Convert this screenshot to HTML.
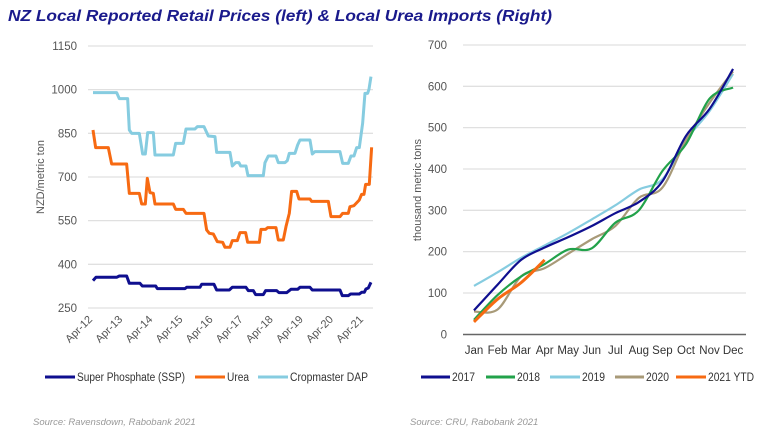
<!DOCTYPE html>
<html><head><meta charset="utf-8"><style>
body{margin:0;background:#fff;width:760px;height:431px;overflow:hidden;font-family:"Liberation Sans",sans-serif}
svg text{font-family:"Liberation Sans",sans-serif}
</style></head><body>
<svg id="s" width="760" height="431" viewBox="0 0 760 431">
<text x="8" y="21" font-size="16" font-weight="bold" font-style="italic" fill="#1a1a8c" textLength="544" lengthAdjust="spacingAndGlyphs">NZ Local Reported Retail Prices (left) &amp; Local Urea Imports (Right)</text>
<g id="grid" stroke="#e0e0e0" stroke-width="1.3"></g>
<g font-size="11.5" fill="#555" text-anchor="end" id="ylab"></g>
<text transform="translate(44,177) rotate(-90)" font-size="11" fill="#555" text-anchor="middle">NZD/metric ton</text>
<text transform="translate(421,190) rotate(-90)" font-size="11" fill="#555" text-anchor="middle">thousand metric tons</text>
<g id="xl" font-size="11" fill="#555" text-anchor="end"></g>
<g transform="translate(0,30) scale(0.3333)" fill="none" stroke-width="9" stroke-linejoin="round">
<polyline stroke="#86cce0" points="279,188 350,188 358,206 383,206 388,300 395,310 418,310 428,372 436,372 443,308 460,308 465,375 520,375 527,340 550,340 558,297 585,297 592,290 612,290 625,318 645,320 650,367 690,367 697,408 707,398 717,398 722,408 738,408 744,437 790,437 795,398 805,378 828,378 835,398 855,398 862,392 868,370 885,370 893,345 900,330 930,330 937,372 945,365 1020,365 1028,400 1045,400 1053,378 1062,378 1070,353 1078,353 1088,280 1095,190 1103,190 1107,178 1113,140"/>
<polyline stroke="#f76a12" points="279,300 287,353 325,353 335,402 380,402 388,490 418,490 425,522 436,522 442,445 450,488 460,490 465,522 520,522 527,538 550,538 558,550 612,550 620,600 628,610 640,612 652,635 668,637 675,652 690,652 697,632 712,632 720,608 737,608 743,637 778,637 783,598 797,598 803,593 828,593 835,630 850,630 858,590 868,550 875,484 890,484 897,507 930,507 935,514 985,514 993,560 1020,560 1028,550 1045,550 1050,530 1062,527 1078,510 1085,493 1092,493 1097,463 1108,463 1115,352"/>
<polyline stroke="#0f0f8f" points="279,752 288,742 350,742 358,738 380,738 388,760 420,760 427,768 467,768 472,776 555,776 560,772 600,772 605,763 642,763 650,780 688,780 697,772 738,772 745,782 760,782 767,794 790,794 797,782 830,782 837,788 860,788 873,778 893,778 900,772 930,772 937,780 1020,780 1027,797 1045,797 1052,792 1078,792 1085,787 1093,787 1098,777 1105,774 1113,757"/>
</g>
<line x1="463" y1="334.5" x2="746" y2="334.5" stroke="#666" stroke-width="1.5"/>
<g id="r" fill="none" stroke-width="2.2"></g>
<g font-size="11.5" fill="#333" id="mon" text-anchor="middle"></g>
<g font-size="11.5" fill="#333" lengthAdjust="spacingAndGlyphs">
<line x1="45" y1="377" x2="75" y2="377" stroke="#0f0f8f" stroke-width="3"/><text x="77" y="381" textLength="108" lengthAdjust="spacingAndGlyphs">Super Phosphate (SSP)</text>
<line x1="195" y1="377" x2="225" y2="377" stroke="#f76a12" stroke-width="3"/><text x="227" y="381" textLength="22" lengthAdjust="spacingAndGlyphs">Urea</text>
<line x1="258" y1="377" x2="288" y2="377" stroke="#86cce0" stroke-width="3"/><text x="290" y="381" textLength="78" lengthAdjust="spacingAndGlyphs">Cropmaster DAP</text>
<line x1="421" y1="377" x2="450" y2="377" stroke="#0f0f8f" stroke-width="3"/><text x="452" y="381" textLength="23" lengthAdjust="spacingAndGlyphs">2017</text>
<line x1="486" y1="377" x2="515" y2="377" stroke="#22a24a" stroke-width="3"/><text x="517" y="381" textLength="23" lengthAdjust="spacingAndGlyphs">2018</text>
<line x1="550" y1="377" x2="580" y2="377" stroke="#86cce0" stroke-width="3"/><text x="582" y="381" textLength="23" lengthAdjust="spacingAndGlyphs">2019</text>
<line x1="615" y1="377" x2="644" y2="377" stroke="#a89a78" stroke-width="3"/><text x="646" y="381" textLength="23" lengthAdjust="spacingAndGlyphs">2020</text>
<line x1="676" y1="377" x2="706" y2="377" stroke="#f76a12" stroke-width="3"/><text x="708" y="381" textLength="46" lengthAdjust="spacingAndGlyphs">2021 YTD</text>
</g>
<text x="33" y="425" font-size="9.5" font-style="italic" fill="#999">Source: Ravensdown, Rabobank 2021</text>
<text x="410" y="425" font-size="9.5" font-style="italic" fill="#999">Source: CRU, Rabobank 2021</text>
</svg>
<script>
var NS="http://www.w3.org/2000/svg",g=document.getElementById("grid"),yl=document.getElementById("ylab");
function el(p,t,a,txt){var e=document.createElementNS(NS,t);for(var k in a)e.setAttribute(k,a[k]);if(txt)e.textContent=txt;p.appendChild(e);return e;}
[1150,1000,850,700,550,400,250].forEach(function(v){var y=308-(v-250)*43.67/150;el(g,"line",{x1:88,x2:373,y1:y,y2:y});el(yl,"text",{x:77,y:y+4},String(v));});
for(var v=100;v<=700;v+=100){var y=334.3-v*0.4133;el(g,"line",{x1:463,x2:746,y1:y,y2:y});}
for(var v=0;v<=700;v+=100){var y=334.3-v*0.4133;el(yl,"text",{x:447,y:y+4},String(v));}
var xl=document.getElementById("xl");
for(var i=0;i<10;i++){var x=93+30.1*i;el(xl,"text",{transform:"translate("+x+",320) rotate(-45)"},"Apr-"+(12+i));}
var M=["Jan","Feb","Mar","Apr","May","Jun","Jul","Aug","Sep","Oct","Nov","Dec"],mon=document.getElementById("mon");
M.forEach(function(m,i){el(mon,"text",{x:474+23.55*i,y:354},m);});
function path(d){var p=d.map(function(v,i){return [474+23.55*i,334.3-v*0.4133];});var s="M"+p[0];for(var i=0;i<p.length-1;i++){var a=p[i-1]||p[i],b=p[i],c=p[i+1],e=p[i+2]||c;s+=" C"+(b[0]+(c[0]-a[0])/6)+","+(b[1]+(c[1]-a[1])/6)+" "+(c[0]-(e[0]-b[0])/6)+","+(c[1]-(e[1]-b[1])/6)+" "+c;}return s;}
var r=document.getElementById("r");
[["#86cce0",[117,150,185,215,245,278,312,350,375,470,540,630]],["#a89a78",[55,60,140,160,195,230,262,330,355,470,560,636]],["#22a24a",[35,95,140,170,205,208,270,300,395,460,570,597]],["#0f0f8f",[58,120,180,210,235,262,293,320,370,480,545,642]],["#f76a12",[30,85,125,180]]].forEach(function(s){el(r,"path",{d:path(s[1]),stroke:s[0],"stroke-width":s[0]=="#f76a12"?3:2.2});});
</script>
</body></html>
